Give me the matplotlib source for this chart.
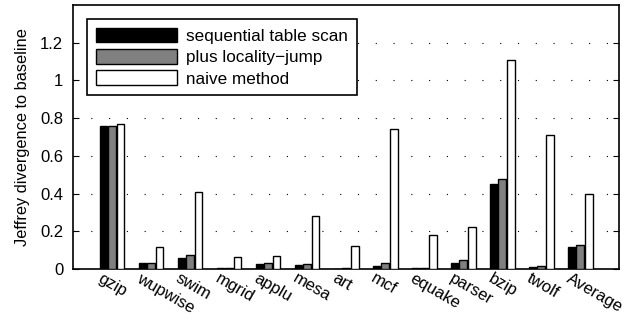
import matplotlib
matplotlib.use("Agg")
import matplotlib.pyplot as plt
import matplotlib.transforms as mtransforms
import numpy as np

benchmarks = ["gzip", "wupwise", "swim", "mgrid", "applu", "mesa", "art",
              "mcf", "equake", "parser", "bzip", "twolf", "Average"]
seq_scan = [0.76, 0.03, 0.057, 0.003, 0.025, 0.021, 0.002,
            0.016, 0.005, 0.032, 0.45, 0.01, 0.117]
loc_jump = [0.76, 0.03, 0.076, 0.005, 0.032, 0.027, 0.004,
            0.034, 0.006, 0.048, 0.476, 0.013, 0.128]
naive = [0.77, 0.118, 0.41, 0.062, 0.068, 0.28, 0.12,
         0.74, 0.18, 0.22, 1.11, 0.71, 0.40]
yticks = [0, 0.2, 0.4, 0.6, 0.8, 1, 1.2]
ytick_labels = ["0", "0.2", "0.4", "0.6", "0.8", "1", "1.2"]

plt.rcParams["font.family"] = ["Liberation Sans", "DejaVu Sans"]

fig = plt.figure(figsize=(6.32, 3.16), dpi=100)
ax = fig.add_axes([0.1155, 0.149, 0.864, 0.835])

x = np.arange(1, len(benchmarks) + 1)
w = 0.2
ax.bar(x - 0.22, seq_scan, w, color="black", edgecolor="black", lw=1,
       label="sequential table scan", zorder=3)
ax.bar(x, loc_jump, w, color="#808080", edgecolor="black", lw=1,
       label="plus locality\u2212jump", zorder=3)
ax.bar(x + 0.22, naive, w, color="white", edgecolor="black", lw=1,
       label="naive method", zorder=3)

ax.set_xlim(0, len(benchmarks) + 1)
ax.set_ylim(0, 1.4)
ax.set_yticks(yticks)
ax.set_yticklabels(ytick_labels, fontsize=12)
ax.set_xticks(x)
ax.set_xticklabels([])
ax.tick_params(axis="x", length=0)

# rotated category labels, nudged left so they sit like the original
shift = mtransforms.ScaledTranslation(-9 / 100, -2 / 100, fig.dpi_scale_trans)
for xi, name in zip(x, benchmarks):
    ax.text(xi, 0, name, transform=ax.get_xaxis_transform() + shift,
            fontsize=12, rotation=-30, ha="left", va="top",
            rotation_mode="anchor")

ax.tick_params(axis="y", direction="in", length=4, right=True, pad=7)
ax.yaxis.grid(True, linestyle=(0, (1, 15)), color="black", lw=0.8)
ax.set_ylabel("Jeffrey divergence to baseline", fontsize=11.8, labelpad=7)
for s in ax.spines.values():
    s.set_linewidth(1.2)

leg = ax.legend(loc="upper left", bbox_to_anchor=(0.026, 0.947),
                borderaxespad=0, fontsize=12.3, handlelength=4.75,
                handleheight=0.95, handletextpad=0.55, labelspacing=0.3,
                borderpad=0.5, fancybox=False, framealpha=1)
leg.get_frame().set_edgecolor("black")
leg.get_frame().set_linewidth(1.2)

fig.savefig("out.png", dpi=100)
